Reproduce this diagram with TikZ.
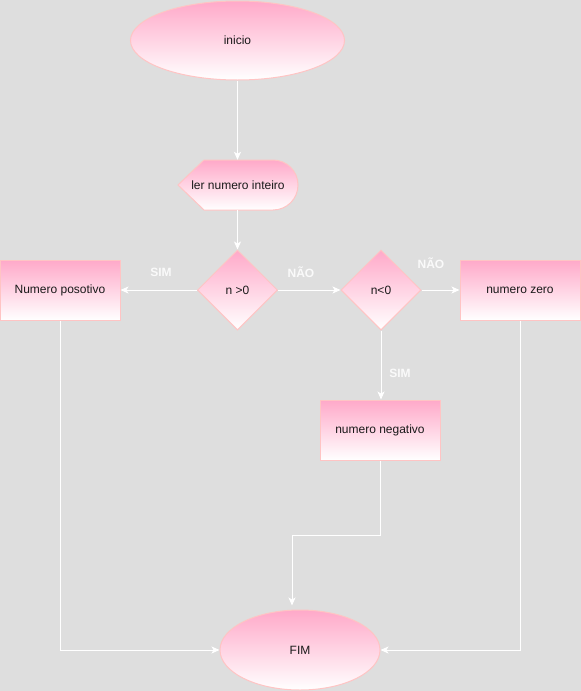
\documentclass[tikz,border=0pt]{standalone}
\usepackage{fontspec}
\setmainfont{Liberation Sans}
\usetikzlibrary{shapes.geometric,arrows.meta}
\definecolor{bg}{HTML}{DEDEDE}
\definecolor{pinktop}{HTML}{FFA9C9}
\definecolor{pinkline}{HTML}{FFC4C4}
\definecolor{txt}{HTML}{1A1A1A}
\definecolor{lbl}{HTML}{FAFAFA}
\tikzset{
  blk/.style={draw=pinkline, line width=1pt, top color=pinktop, bottom color=white, text=txt, font=\fontsize{12}{14}\selectfont, inner sep=0pt},
  term/.style={blk, ellipse},
  boxs/.style={blk, rectangle, minimum width=120pt, minimum height=60pt},
  dec/.style={blk, diamond, aspect=1, minimum width=80pt, minimum height=80pt},
  conn/.style={draw=white, line width=1pt, -{Stealth[length=8pt,width=7pt,inset=2pt]}},
  edgelbl/.style={text=lbl, font=\bfseries\fontsize{12}{14}\selectfont},
}
\begin{document}
\begin{tikzpicture}[x=1pt,y=-1pt]
\fill[bg] (0,0) rectangle (581,691);
\useasboundingbox (0,0) rectangle (581,691);

\node[term, minimum width=214pt, minimum height=79pt] (ini) at (237.5,40.5) {inicio};

% display shape
\path[blk] (178,185) -- (204,160) -- (273,160) arc[start angle=90, end angle=-90, radius=25pt] -- (204,210) -- cycle;
\node[rectangle, minimum width=120pt, minimum height=50pt, inner sep=0pt, text=txt, font=\fontsize{12}{14}\selectfont] (rd) at (238,185) {ler numero inteiro};

\node[dec] (d1) at (237.5,290) {n >0};
\node[dec] (d2) at (381,290) {n<0};
\node[boxs] (pos) at (60,290) {Numero posotivo};
\node[boxs] (zer) at (520,290) {numero zero};
\node[boxs] (neg) at (380,430) {numero negativo};
\node[term, minimum width=160pt, minimum height=80pt] (fim) at (300,650) {FIM};

\coordinate (bend) at (292,535);

\draw[conn] (ini.south) -- (ini.south |- rd.north);
\draw[conn] (rd.south -| d1.north) -- (d1.north);
\draw[conn] (d1.west) -- (pos.east);
\draw[conn] (d1.east) -- (d2.west);
\draw[conn] (d2.east) -- (zer.west);
\draw[conn] (d2.south) -- (d2.south |- neg.north);
\draw[conn] (pos.south) |- (fim.west);
\draw[conn] (zer.south) |- (fim.east);
\draw[conn, shorten >=4pt] (neg.south) |- (bend) -- (bend |- fim.north);

\node[edgelbl] (l1) at (161,272) {SIM};
\node[edgelbl] (l2) at (301,272) {NÃO};
\node[edgelbl] (l3) at (431,263) {NÃO};
\node[edgelbl] (l4) at (400,373) {SIM};
\end{tikzpicture}
\end{document}
